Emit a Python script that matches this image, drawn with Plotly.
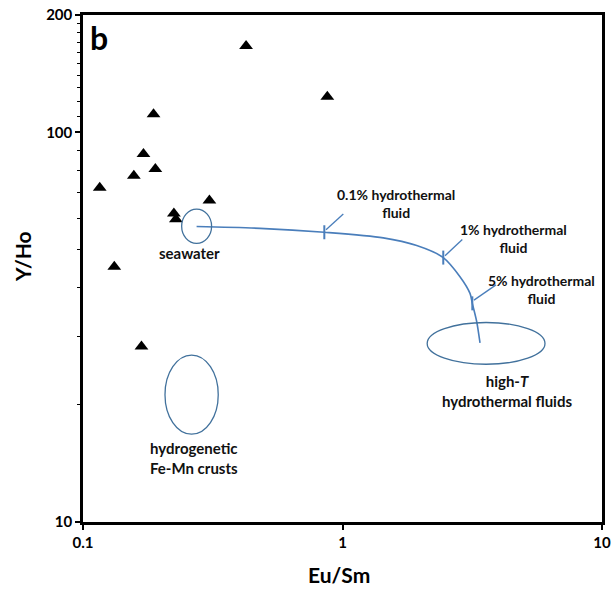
import math
import plotly.graph_objects as go

# ---- data ----
eu_sm = [0.425, 0.874, 0.187, 0.171, 0.157, 0.190, 0.116, 0.307, 0.224, 0.228, 0.132, 0.168]
y_ho = [166.5, 123.4, 111.2, 88.0, 77.4, 80.5, 72.1, 66.8, 61.9, 59.8, 45.2, 28.2]

# mixing curve seawater -> high-T hydrothermal fluid
mix_x = [0.274, 0.481, 0.851, 1.436, 1.932, 2.445, 2.836, 3.10, 3.164, 3.289, 3.388]
mix_y = [57.3, 56.7, 55.4, 53.6, 51.2, 47.7, 42.6, 38.6, 36.4, 32.7, 28.8]

# mixing proportion marks on the curve
mark_x = [0.851, 2.445, 3.164]
mark_y = [55.4, 47.7, 36.4]
mark_labels = ["0.1% hydrothermal<br>fluid", "1% hydrothermal<br>fluid", "5% hydrothermal<br>fluid"]

# leader lines (start on curve, end near label)
lead_x0 = [0.864, 2.483, 3.211]
lead_y0 = [56.2, 48.2, 37.1]
lead_x1 = [1.007, 2.895, 3.904]
lead_y1 = [61.7, 53.1, 40.6]

# field ellipses: (x0, x1, y0, y1)
fields = {
    "seawater": (0.240, 0.313, 51.9, 63.5),
    "hydrogenetic": (0.207, 0.332, 16.8, 26.8),
    "highT": (2.12, 6.03, 25.4, 32.5),
}

x_ticks = [0.1, 1, 10]
y_ticks = [10, 100, 200]
y_minor = [20, 30, 40, 50, 60, 70, 80, 90, 110, 120, 130, 140, 150, 160, 170, 180, 190]

FONT = "Lato"
CURVE = "#4a7ebb"
ELL = "#41719c"
TXT = "#111111"

fig = go.Figure()

fig.add_trace(go.Scatter(x=mix_x, y=mix_y, mode="lines",
                         line=dict(color=CURVE, width=1.6, shape="spline", smoothing=0.8),
                         hoverinfo="skip", showlegend=False))
fig.add_trace(go.Scatter(x=mark_x, y=mark_y, mode="markers",
                         marker=dict(symbol="line-ns", size=10, line=dict(color=CURVE, width=2)),
                         hoverinfo="skip", showlegend=False))
fig.add_trace(go.Scatter(x=eu_sm, y=y_ho, mode="markers",
                         marker=dict(symbol="triangle-up", size=12, color="black"),
                         showlegend=False))

for k, (x0, x1, y0, y1) in fields.items():
    fig.add_shape(type="circle", xref="x", yref="y", x0=x0, x1=x1, y0=y0, y1=y1,
                  line=dict(color=ELL, width=1.3))

for a, b, c, d in zip(lead_x0, lead_y0, lead_x1, lead_y1):
    fig.add_shape(type="line", xref="x", yref="y", x0=a, y0=b, x1=c, y1=d,
                  line=dict(color=CURVE, width=1.3))

def label(text, px, py, size=15, color=TXT, angle=0):
    fig.add_annotation(text=text, xref="paper", yref="paper", x=px, y=py, showarrow=False,
                       xanchor="center", yanchor="middle", textangle=angle,
                       font=dict(family=FONT, size=size, color=color, weight="bold"))

lab_pos = [(0.603, 0.629), (0.830, 0.560), (0.884, 0.459)]
for t, (px, py) in zip(mark_labels, lab_pos):
    label(t, px, py, size=14)

label("seawater", 0.205, 0.530)
label("hydrogenetic<br>Fe-Mn crusts", 0.214, 0.126)
label("high-<i>T</i><br>hydrothermal fluids", 0.816, 0.258)

label("b", 0.031, 0.955, size=32, color="black")
label("Eu/Sm", 0.4923, -0.1026, size=21, color="black")
label("Y/Ho", -0.1156, 0.5227, size=21, color="black", angle=-90)

fig.update_xaxes(type="log", range=[-1, 1], tickvals=x_ticks, ticktext=["0.1", "1", "10"],
                 ticks="outside", ticklen=5, tickwidth=2, tickcolor="black",
                 showline=True, linecolor="black", linewidth=2.5, mirror=True,
                 showgrid=False, zeroline=False, automargin=False,
                 tickfont=dict(family=FONT, size=15, color="black", weight="bold"))
fig.update_yaxes(type="log", range=[1, math.log10(200)], tickvals=y_ticks,
                 ticktext=["10", "100", "200"],
                 ticks="outside", ticklen=5, tickwidth=2, tickcolor="black",
                 minor=dict(tickvals=y_minor, ticks="outside", ticklen=3, tickwidth=1, tickcolor="black"),
                 showline=True, linecolor="black", linewidth=2.5, mirror=True,
                 showgrid=False, zeroline=False, automargin=False,
                 tickfont=dict(family=FONT, size=15, color="black", weight="bold"))

fig.update_layout(width=614, height=591, margin=dict(l=83, r=12, t=15, b=69),
                  paper_bgcolor="white", plot_bgcolor="white", showlegend=False)

fig.write_html("out.html")
